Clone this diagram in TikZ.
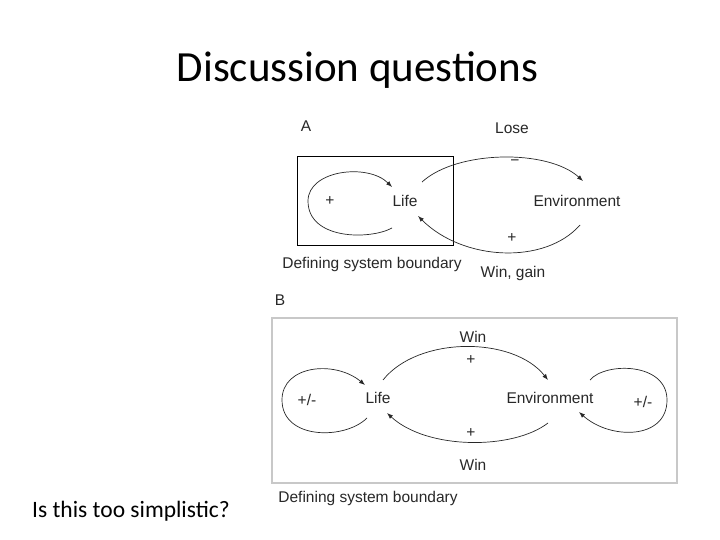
\documentclass[tikz,border=0pt]{standalone}
\usepackage{fontspec}
\setmainfont{Carlito}
\newfontfamily\diagfont{Liberation Sans}
\usetikzlibrary{arrows.meta, calc}
\definecolor{inkgrey}{RGB}{40, 40, 40}
\definecolor{boundgrey}{RGB}{200, 200, 200}
\tikzset{
  lbl/.style={font=\diagfont\fontsize{15.5}{18}\selectfont, text=inkgrey, inner sep=0pt},
  link/.style={draw=inkgrey, line width=0.7pt, -{Latex[length=6pt, width=4.5pt]}},
  boundary/.style={rectangle, draw=black, line width=1pt, inner sep=0pt}
}

\begin{document}
\begin{tikzpicture}[x=1pt, y=-1pt]
\useasboundingbox[fill=white] (0,0) rectangle (720,540);

% titles
\node[anchor=base, font=\fontsize{43}{50}\selectfont, inner sep=0pt] (title) at (357.5,82) {Discussion questions};
\node[anchor=base west, font=\fontsize{23.5}{28}\selectfont, inner sep=0pt] (question) at (32,517) {Is this too simplistic?};

% panel A
\node[lbl] (tagA) at (306,126) {A};
\node[boundary, minimum width=156pt, minimum height=88pt] (sysA) at (375,201) {};
\node[lbl] (lifeA) at (405,201) {Life};
\node[lbl] (envA) at (577,201) {Environment};
\node[lbl] (selfA) at (330,201) {+};
\node[lbl] (loseA) at (512,128) {Lose};
\node[lbl] (minusA) at (515,163) {−};
\node[lbl] (plusA) at (512,238) {+};
\node[lbl] (boundA) at (372,264) {Defining system boundary};
\node[lbl] (winA) at (513,273) {Win, gain};

\draw[link] ($(lifeA)+(-13,27)$) .. controls (370,240) and (308,240) .. (308,201)
  .. controls (308,170) and (368,163) .. ($(lifeA)+(-13,-14)$);
\draw[link] ($(lifeA)+(17,-19)$) .. controls +(35,-32) and +(-35,-32) .. ($(envA)+(6,-20)$);
\draw[link] ($(envA)+(3,24)$) .. controls +(-35,40) and +(45,45) .. ($(lifeA)+(13,15)$);

% panel B
\node[lbl] (tagB) at (280,300) {B};
\node[boundary, draw=boundgrey, line width=1.2pt, minimum width=405pt, minimum height=165pt] (sysB) at (474.5,400.5) {};
\node[lbl] (lifeB) at (378,398) {Life};
\node[lbl] (envB) at (550,398) {Environment};
\node[lbl] (selfB) at (307,400) {+/-};
\node[lbl] (selfEnvB) at (643,402) {+/-};
\node[lbl] (winTopB) at (473,337) {Win};
\node[lbl] (plusTopB) at (471,360) {+};
\node[lbl] (plusLowB) at (471,433) {+};
\node[lbl] (winLowB) at (473,465) {Win};
\node[lbl] (boundB) at (368,498) {Defining system boundary};

\draw[link] ($(lifeB)+(-11,20)$) .. controls (345,440) and (282,440) .. (282,400)
  .. controls (282,365) and (335,360) .. ($(lifeB)+(-13,-13)$);
\draw[link] ($(envB)+(40,-18)$) .. controls (605,362) and (667,362) .. (667,400)
  .. controls (667,440) and (610,440) .. ($(envB)+(29,14)$);
\draw[link] ($(lifeB)+(5,-18)$) .. controls +(35,-44) and +(-35,-44) .. ($(envB)+(-2,-18)$);
\draw[link] ($(envB)+(-2,25)$) .. controls +(-35,27) and +(40,37) .. ($(lifeB)+(9,15)$);
\end{tikzpicture}
\end{document}
